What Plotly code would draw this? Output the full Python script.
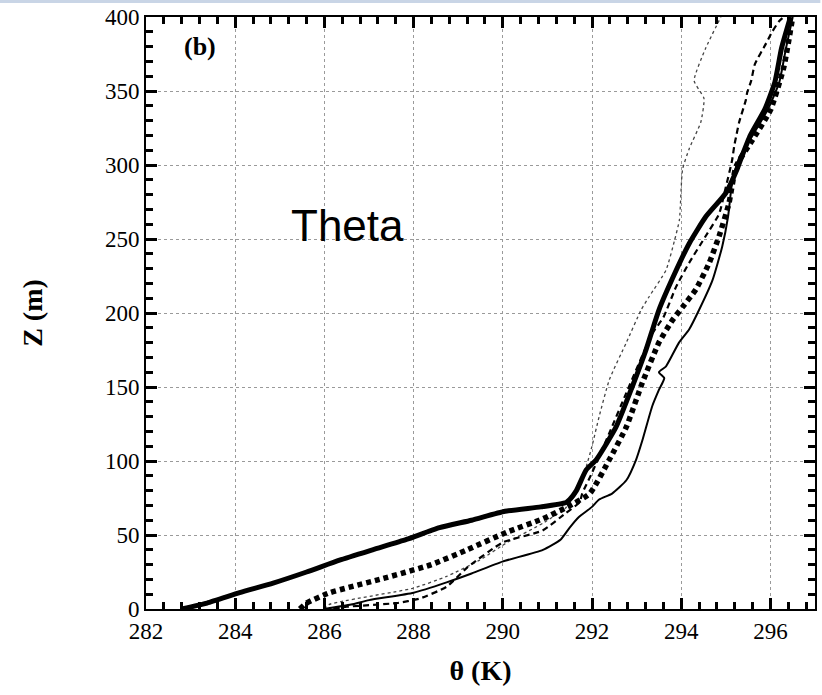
import plotly.graph_objects as go

# Thick solid profile
ts_z = [0, 4, 11, 17.5, 25, 33, 40, 47, 55, 60, 66, 69, 72, 74, 80, 94, 101, 123, 150, 175, 202, 229, 247, 265, 281, 297, 305, 320, 338, 356, 379, 400]
ts_t = [282.8, 283.37, 284.1, 284.85, 285.6, 286.34, 287.08, 287.84, 288.58, 289.3, 290.05, 290.85, 291.42, 291.5, 291.65, 291.87, 292.1, 292.54, 292.9, 293.21, 293.5, 293.89, 294.18, 294.55, 295.0, 295.25, 295.35, 295.55, 295.88, 296.1, 296.25, 296.45]

# Thick dotted (squares) profile
td_z = [0, 4, 11, 20, 30, 40, 52, 61, 69, 78, 101, 123, 153, 180, 195, 204, 216, 234, 252, 274, 299, 317, 337, 366, 400]
td_t = [285.45, 285.6, 286.12, 287.24, 288.4, 289.2, 290.1, 290.9, 291.45, 291.95, 292.39, 292.77, 293.13, 293.5, 293.8, 294.03, 294.33, 294.63, 294.85, 295.07, 295.23, 295.6, 296.0, 296.3, 296.5]

# Dashed profile
da_z = [0, 1.5, 4, 7, 15, 28, 45, 53, 65, 72, 78, 92, 119, 146, 186, 197, 218, 234, 252, 267, 285, 303, 313, 319, 329, 344, 349, 357, 368, 382, 390, 397, 400]
da_t = [286.2, 286.5, 287.62, 288.13, 288.74, 289.2, 290.0, 290.89, 291.42, 291.72, 291.78, 292.0, 292.39, 292.77, 293.35, 293.6, 293.89, 294.18, 294.55, 294.85, 295.0, 295.14, 295.19, 295.23, 295.3, 295.45, 295.48, 295.57, 295.65, 295.9, 296.04, 296.19, 296.3]

# Thin solid profile
tn_z = [0, 3, 6, 11, 18, 24, 32, 40, 47, 55, 62, 69, 74, 78, 87, 101, 114, 137, 148, 156, 160, 164, 180, 189, 202, 222, 245, 265, 290, 305, 320, 338, 356, 379, 400]
tn_t = [286.0, 286.6, 287.0, 288.0, 288.74, 289.3, 289.99, 290.9, 291.3, 291.5, 291.7, 292.0, 292.16, 292.45, 292.77, 292.99, 293.13, 293.35, 293.5, 293.62, 293.5, 293.66, 293.95, 294.18, 294.4, 294.7, 294.92, 295.05, 295.15, 295.3, 295.6, 295.95, 296.2, 296.35, 296.5]

# Fine dotted profile
fd_z = [0, 3, 14, 22, 33, 45, 58, 68, 76, 82, 96, 110, 130, 155, 180, 202, 211, 229, 249, 263, 297, 311, 329, 345, 357, 379, 400]
fd_t = [286.0, 286.1, 287.98, 288.74, 289.48, 290.1, 290.9, 291.4, 291.6, 291.72, 291.87, 292.0, 292.16, 292.39, 292.77, 293.1, 293.28, 293.66, 293.85, 293.96, 294.03, 294.18, 294.44, 294.51, 294.29, 294.55, 294.89]

x_range = [282, 297]
y_range = [0, 400]

fig = go.Figure()
sp = dict(shape="spline", smoothing=0.5)
fig.add_trace(go.Scatter(x=fd_t, y=fd_z, mode="lines",
                         line=dict(color="#444", width=1.3, dash="dot", **sp)))
fig.add_trace(go.Scatter(x=tn_t, y=tn_z, mode="lines",
                         line=dict(color="black", width=2, **sp)))
fig.add_trace(go.Scatter(x=da_t, y=da_z, mode="lines",
                         line=dict(color="black", width=2.2, dash="6px,4px", **sp)))
fig.add_trace(go.Scatter(x=td_t, y=td_z, mode="lines",
                         line=dict(color="black", width=5.5, dash="5px,4px", **sp)))
fig.add_trace(go.Scatter(x=ts_t, y=ts_z, mode="lines",
                         line=dict(color="black", width=5, **sp)))

serif = "Liberation Serif, Times New Roman, serif"

fig.update_layout(
    xaxis=dict(range=x_range, tickmode="linear", tick0=282, dtick=2,
               showline=True, linecolor="black", linewidth=2, mirror="allticks",
               ticks="inside", ticklen=11, tickwidth=3, tickcolor="black",
               minor=dict(ticks="inside", ticklen=7, tickwidth=2.5, tickcolor="black", dtick=0.4),
               showgrid=True, gridcolor="#9a9a9a", gridwidth=1, griddash="dot",
               zeroline=False,
               tickfont=dict(family=serif, size=23, color="black"),
               title=dict(text="<b>θ (K)</b>", font=dict(family=serif, size=28, color="black"), standoff=18)),
    yaxis=dict(range=y_range, tickmode="linear", tick0=0, dtick=50,
               showline=True, linecolor="black", linewidth=2, mirror="allticks",
               ticks="inside", ticklen=11, tickwidth=3, tickcolor="black",
               minor=dict(ticks="inside", ticklen=7, tickwidth=2.5, tickcolor="black", dtick=10),
               showgrid=True, gridcolor="#9a9a9a", gridwidth=1, griddash="dot",
               zeroline=False,
               tickfont=dict(family=serif, size=23, color="black"),
               title=dict(text="<b>Z (m)</b>", font=dict(family=serif, size=28, color="black"), standoff=54)),
    width=822, height=695,
    margin=dict(l=146, r=5, t=17, b=86),
    paper_bgcolor="white", plot_bgcolor="white",
    showlegend=False,
)

fig.add_annotation(x=0.08, y=0.95, xref="paper", yref="paper", text="<b>(b)</b>",
                   xanchor="center", yanchor="middle",
                   showarrow=False, font=dict(family=serif, size=26, color="black"))
fig.add_annotation(x=0.301, y=0.647, xref="paper", yref="paper", text="Theta",
                   xanchor="center", yanchor="middle",
                   showarrow=False, font=dict(family="Liberation Sans, Arial, sans-serif", size=44, color="black"))

# thin light-blue band along the very top of the picture
fig.add_shape(type="rect", xref="paper", yref="paper", x0=-0.22, x1=1.008, y0=1.0236, y1=1.03,
              fillcolor="#c9d5e6", line=dict(width=0), layer="below")

fig.write_html("out.html")
